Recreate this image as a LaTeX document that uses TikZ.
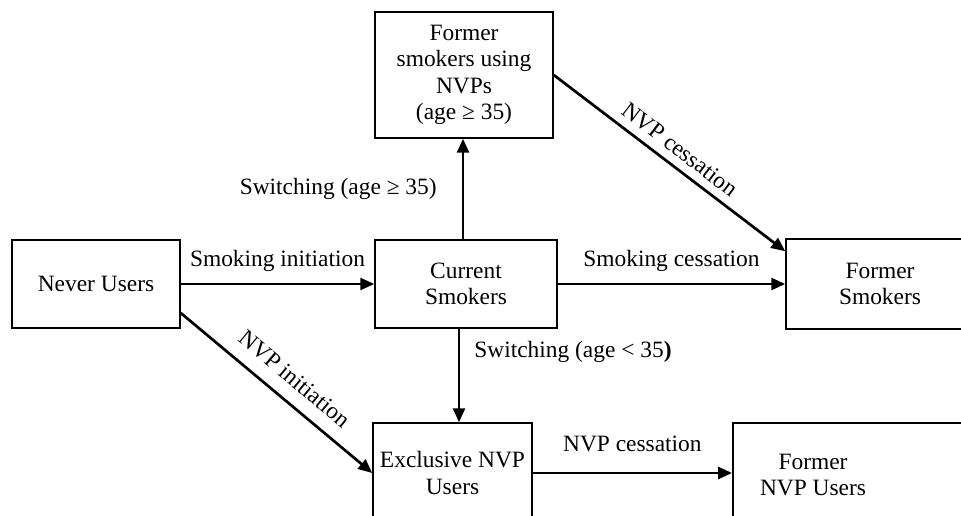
\documentclass[tikz,border=0pt]{standalone}
\usepackage{fontspec}
\setmainfont{Liberation Serif}
\usetikzlibrary{arrows.meta,positioning,calc}

\begin{document}
\begin{tikzpicture}[x=1bp, y=-1bp,
    box/.style={draw, rectangle, line width=1.5bp, align=center, inner sep=4bp, font=\fontsize{23.5}{26.5}\selectfont},
    lbl/.style={align=center, inner sep=3bp, font=\fontsize{23.5}{26.5}\selectfont},
    arr/.style={-{Triangle[length=14bp,width=12bp]}, line width=2.7bp}]

\useasboundingbox (0,0) rectangle (961,516);

% top level
\node[box, minimum width=178bp, minimum height=126bp] (nvps) at (464,75) {Former\\smokers using\\NVPs\\(age ≥ 35)};

% middle level
\node[box, minimum width=168bp, minimum height=88bp] (never) at (96,284) {Never Users};
\node[box, minimum width=182bp, minimum height=88bp] (current) at (466,284) {Current\\Smokers};
\node[box, minimum width=188bp, minimum height=90bp] (formersm) at (880,284) {Former\\Smokers};

% bottom level
\node[box, minimum width=159bp, minimum height=100bp] (excl) at (452.5,473) {Exclusive NVP\\Users};
\node[box, minimum width=260bp, minimum height=100bp, anchor=west] (fnvp) at (732,473) {};
\node[lbl] (fnvptext) at (813,475) {Former\\NVP Users};

% arrows
\draw[arr] (never) -- node[lbl, above=8bp] {Smoking initiation} (current);
\draw[arr] (current) -- node[lbl, above=8bp] {Smoking cessation} (formersm);
\draw[arr] (excl) -- node[lbl, above=17bp] {NVP cessation} (fnvp);

\draw[arr] ([xshift=-3bp]current.north) -- node[lbl, left=22bp] {Switching (age ≥ 35)} ([xshift=-3bp]current.north |- nvps.south);
\draw[arr] ([xshift=-7bp]current.south) -- node[lbl, right=11bp, pos=.25] {Switching (age < 35\textbf{)}} ([xshift=-7bp]current.south |- excl.north);

\draw[arr] (nvps.east) -- node[lbl, sloped, above=5bp] {NVP cessation} ([yshift=-13bp]formersm.north west);
\draw[arr] ([yshift=-29bp]never.east) -- node[lbl, sloped, above=10bp, pos=.52] {NVP initiation} (excl.west);
\end{tikzpicture}
\end{document}
